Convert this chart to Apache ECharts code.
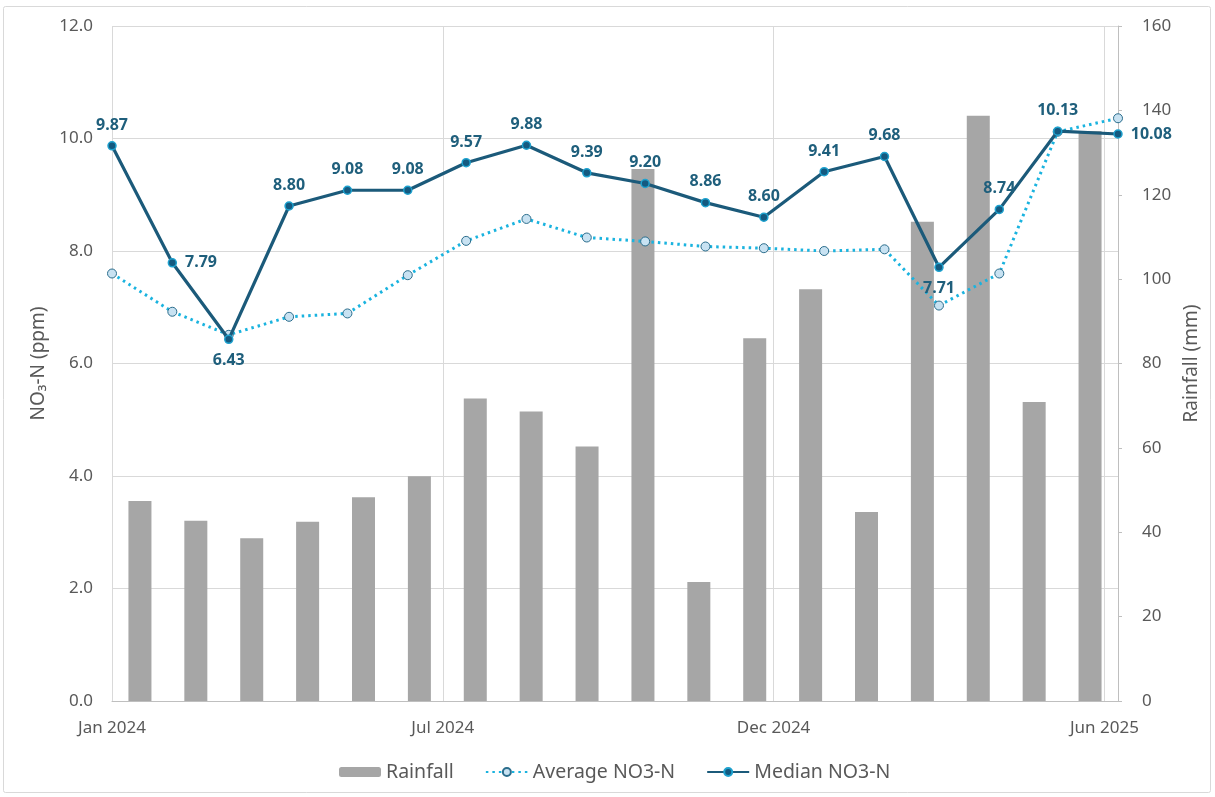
<!DOCTYPE html>
<html>
<head>
<meta charset="utf-8">
<script src="https://cdn.jsdelivr.net/npm/echarts@6/dist/echarts.min.js"></script>
<style>
  html, body { margin: 0; padding: 0; background: #ffffff; }
  #chart { width: 1215px; height: 797px; }
</style>
</head>
<body>
<div id="chart"></div>
<script>
// ---- Data ----
const months = ['Jan 2024','Feb 2024','Mar 2024','Apr 2024','May 2024','Jun 2024','Jul 2024','Aug 2024','Sep 2024','Oct 2024','Nov 2024','Dec 2024','Jan 2025','Feb 2025','Mar 2025','Apr 2025','May 2025','Jun 2025'];
const sampleDates = ['2024-01-15','2024-02-15','2024-03-15','2024-04-15','2024-05-15','2024-06-15','2024-07-15','2024-08-15','2024-09-15','2024-10-15','2024-11-15','2024-12-15','2025-01-15','2025-02-15','2025-03-15','2025-04-15','2025-05-15','2025-06-15'];
const rainfall = [47.4, 42.7, 38.6, 42.5, 48.3, 53.3, 71.7, 68.6, 60.3, 126.1, 28.2, 86.0, 97.6, 44.8, 113.6, 138.7, 70.9, 135.1];
const averageNO3N = [7.60, 6.92, 6.51, 6.83, 6.89, 7.57, 8.18, 8.57, 8.24, 8.17, 8.08, 8.05, 8.00, 8.03, 7.03, 7.60, 10.12, 10.36];
const medianNO3N = [9.87, 7.79, 6.43, 8.80, 9.08, 9.08, 9.57, 9.88, 9.39, 9.20, 8.86, 8.60, 9.41, 9.68, 7.71, 8.74, 10.13, 10.08];
const monthNames = ['Jan','Feb','Mar','Apr','May','Jun','Jul','Aug','Sep','Oct','Nov','Dec'];
const dateTickStepDays = 170;   // date-axis major unit (days)
const leftTicks = { min: 0, max: 12, step: 2 };
const rightTicks = { min: 0, max: 160, step: 20 };

// ---- Helpers ----
const DAY = 86400000;
function toUTC(s) { const p = s.split('-').map(Number); return Date.UTC(p[0], p[1] - 1, p[2]); }
const startMs = toUTC(sampleDates[0]);
const dayOffset = sampleDates.map(d => Math.round((toUTC(d) - startMs) / DAY));
const lastDay = dayOffset[dayOffset.length - 1];

// label placement for median data labels (style only)
const medianLabelPlacement = ['top','right','bottom','top','top','top','top','top','top','top','top','top','top','top','bottom','top','top','right'];

const axisTextColor = '#595959';
const gridColor = '#d9d9d9';
const fontFam = '"Noto Sans", sans-serif';

const chart = echarts.init(document.getElementById('chart'), null, { renderer: 'canvas' });

const option = {
  backgroundColor: '#ffffff',
  animation: false,
  textStyle: { fontFamily: fontFam },
  graphic: [{
    type: 'rect',
    shape: { x: 3.5, y: 6.5, width: 1207, height: 786, r: 2 },
    style: { fill: 'none', stroke: '#d9d9d9', lineWidth: 1 },
    silent: true, z: -10
  }],
  grid: { left: 112, right: 97, top: 26, bottom: 96, containLabel: false },
  legend: {
    data: ['Rainfall', 'Average NO3-N', 'Median NO3-N'],
    left: 339, top: 762,
    padding: 0,
    itemWidth: 42, itemHeight: 10, itemGap: 31,
    textStyle: { color: axisTextColor, fontSize: 19.5, fontFamily: fontFam }
  },
  xAxis: [{
    type: 'value',
    min: 0, max: lastDay, interval: dateTickStepDays,
    axisLine: { show: true, lineStyle: { color: '#bfbfbf', width: 1 } },
    axisTick: { show: false },
    splitLine: { show: true, lineStyle: { color: gridColor, width: 1 } },
    axisLabel: {
      color: axisTextColor, fontSize: 17, fontFamily: fontFam, margin: 19,
      showMaxLabel: false,
      formatter: function (v) {
        if (v % dateTickStepDays !== 0) return '';
        const d = new Date(startMs + v * DAY);
        return monthNames[d.getUTCMonth()] + ' ' + d.getUTCFullYear();
      }
    }
  }, {
    type: 'category',
    data: months,
    boundaryGap: true,
    show: false
  }],
  yAxis: [{
    type: 'value',
    min: leftTicks.min, max: leftTicks.max, interval: leftTicks.step,
    name: 'NO₃-N (ppm)',
    nameLocation: 'middle', nameRotate: 90, nameGap: 61,
    nameTextStyle: { color: axisTextColor, fontSize: 19, fontFamily: fontFam },
    axisLine: { show: false },
    axisTick: { show: false },
    splitLine: { show: true, lineStyle: { color: gridColor, width: 1 } },
    axisLabel: { color: axisTextColor, fontSize: 17, fontFamily: fontFam, margin: 19,
      formatter: v => v.toFixed(1) }
  }, {
    type: 'value',
    min: rightTicks.min, max: rightTicks.max, interval: rightTicks.step,
    name: 'Rainfall (mm)',
    nameLocation: 'middle', nameRotate: 90, nameGap: 60,
    nameTextStyle: { color: axisTextColor, fontSize: 19, fontFamily: fontFam },
    axisLine: { show: true, lineStyle: { color: '#bfbfbf', width: 1 } },
    axisTick: { show: true, inside: false, length: 4, lineStyle: { color: '#bfbfbf' } },
    splitLine: { show: false },
    axisLabel: { color: axisTextColor, fontSize: 17, fontFamily: fontFam, margin: 24 }
  }],
  series: [{
    name: 'Rainfall',
    type: 'bar',
    xAxisIndex: 1, yAxisIndex: 1,
    data: rainfall,
    barWidth: 23,
    itemStyle: { color: '#a6a6a6' },
    z: 1
  }, {
    name: 'Average NO3-N',
    type: 'line',
    xAxisIndex: 0, yAxisIndex: 0,
    data: dayOffset.map((x, i) => [x, averageNO3N[i]]),
    clip: false,
    symbol: 'circle', symbolSize: 9,
    lineStyle: { color: '#1ab3df', width: 3, type: [2.5, 4] },
    itemStyle: { color: '#c8e2f2', borderColor: '#2b6d8c', borderWidth: 1 },
    z: 3
  }, {
    name: 'Median NO3-N',
    type: 'line',
    xAxisIndex: 0, yAxisIndex: 0,
    data: dayOffset.map((x, i) => ({
      value: [x, medianNO3N[i]],
      label: { position: medianLabelPlacement[i] }
    })),
    clip: false,
    symbol: 'circle', symbolSize: 8,
    lineStyle: { color: '#1b5a7a', width: 3.2 },
    itemStyle: { color: '#145a80', borderColor: '#1ea2cf', borderWidth: 1.5 },
    label: {
      show: true, distance: 8,
      color: '#1f5f7c', fontSize: 16, fontWeight: 'bold', fontFamily: fontFam,
      formatter: p => p.value[1].toFixed(2)
    },
    z: 4
  }]
};

chart.setOption(option);
</script>
</body>
</html>
